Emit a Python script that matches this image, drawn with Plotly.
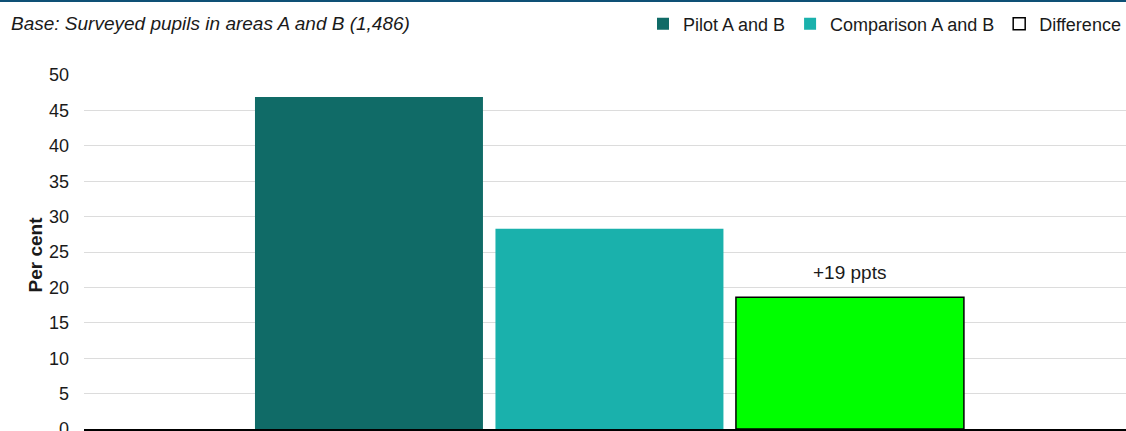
import plotly.graph_objects as go

# Share of surveyed pupils (per cent)
categories = ["Pilot A and B", "Comparison A and B", "Difference"]
pilot = [46.9]
comparison = [28.3]
difference = [round(pilot[0] - comparison[0], 1)]

COL_PILOT = "#106b67"
COL_COMP = "#1ab1ac"
COL_DIFF = "#00ff00"
FONT = "Liberation Sans, Arial, sans-serif"
TXT = "#1a1a1a"

W, H = 1126, 431
L, R, T, B = 84, 0, 75, 2
BAR_W = 0.948
PH = H - T - B  # plot height in pixels


def py(px_from_top):
    """Paper y coordinate for a pixel row measured from the top of the page."""
    return (H - B - px_from_top) / PH


def px(px_from_left):
    return (px_from_left - L) / (W - L - R)


fig = go.Figure()
fig.add_trace(go.Bar(x=[categories[0]], y=pilot, name="Pilot A and B",
                     marker=dict(color=COL_PILOT, line=dict(width=0)), width=BAR_W))
fig.add_trace(go.Bar(x=[categories[1]], y=comparison, name="Comparison A and B",
                     marker=dict(color=COL_COMP, line=dict(width=0)), width=BAR_W))
fig.add_trace(go.Bar(x=[categories[2]], y=difference, name="Difference", showlegend=False,
                     marker=dict(color=COL_DIFF, line=dict(color="black", width=1.5)),
                     width=BAR_W))
# legend key for the difference bar: hollow square
fig.add_trace(go.Bar(x=[None], y=[None], name="Difference",
                     marker=dict(color="white", line=dict(color="black", width=1.5))))

fig.add_annotation(x=categories[2], y=difference[0], text=f"+{round(difference[0])} ppts",
                   showarrow=False, yanchor="bottom", yshift=10,
                   font=dict(family=FONT, size=19, color=TXT),
                   bgcolor="white", borderpad=3)

# vertical axis title
fig.add_annotation(xref="paper", yref="paper", x=px(22), y=py(255),
                   text="<b>Per cent</b>", textangle=-90, showarrow=False,
                   font=dict(family=FONT, size=19, color=TXT))

# base note
fig.add_annotation(xref="paper", yref="paper", x=px(9), xanchor="left",
                   y=py(24), yanchor="middle",
                   text="<i>Base: Surveyed pupils in areas A and B (1,486)</i>",
                   showarrow=False, font=dict(family=FONT, size=19, color=TXT))

# rule across the top edge
fig.add_shape(type="line", xref="paper", yref="paper",
              x0=px(0), x1=1, y0=py(1), y1=py(1),
              line=dict(color="#0e5075", width=2))

fig.update_layout(
    width=W, height=H,
    margin=dict(l=L, r=R, t=T, b=B, pad=0, autoexpand=False),
    template="none",
    paper_bgcolor="white", plot_bgcolor="white",
    barmode="overlay",
    showlegend=True,
    legend=dict(orientation="h", x=1.0, xanchor="right", y=py(24),
                yanchor="middle", font=dict(family=FONT, size=18, color=TXT),
                bgcolor="rgba(0,0,0,0)", itemwidth=30, traceorder="normal"),
    font=dict(family=FONT, color=TXT),
)
fig.update_xaxes(type="category", categoryorder="array", categoryarray=categories,
                 range=[-1.185, 3.148], showticklabels=False, ticks="",
                 showgrid=False, showline=True, linecolor="black", linewidth=2,
                 zeroline=False, automargin=False)
fig.update_yaxes(range=[0, 50], tick0=0, dtick=5, ticks="", ticklabelstandoff=14,
                 ticklabeloverflow="allow",
                 tickfont=dict(family=FONT, size=18, color=TXT),
                 showgrid=True, gridcolor="#dcdcdc", gridwidth=1,
                 zeroline=False, showline=False, automargin=False)

fig.write_html("out.html")
